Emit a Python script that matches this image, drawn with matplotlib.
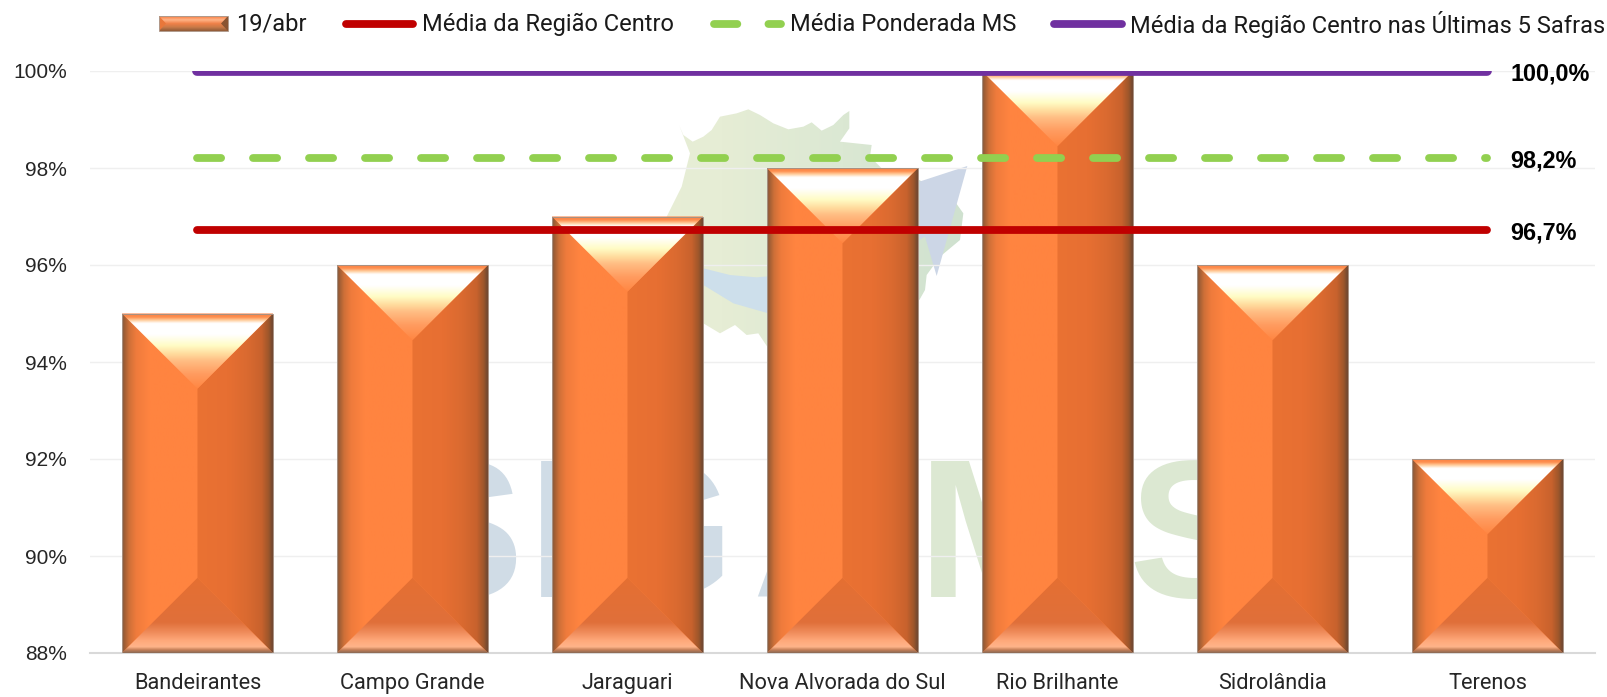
import numpy as np
import matplotlib
matplotlib.use('Agg')
import matplotlib.pyplot as plt
from matplotlib.colors import LinearSegmentedColormap
from matplotlib.patches import Polygon

# data
cidades = ['Bandeirantes', 'Campo Grande', 'Jaraguari', 'Nova Alvorada do Sul',
           'Rio Brilhante', 'Sidrolândia', 'Terenos']
valores = [95, 96, 97, 98, 100, 96, 92]
media_centro = 96.72
media_ms = 98.2
media_5_safras = 100.0
yticks = [88, 90, 92, 94, 96, 98, 100]

W, H = 1608, 697
LARANJA = '#ff8440'


def grad(stops, total):
    # stops in pixels, from the start of the panel
    return LinearSegmentedColormap.from_list(
        'g', [(min(p / total, 1.0), c) for p, c in stops], N=512)


ESQ = [(0, '#7d5f4c'), (2, '#9c5c34'), (7, '#cf7038'), (14, '#ef7b3c'), (27, '#ff8440'), (75, '#ff8440')]
DIR = [(0, '#ea7233'), (30, '#e76f32'), (50, '#da6a30'), (64, '#c8622d'), (71, '#9c562b'), (75, '#6b4632')]
TOPO = [(0, '#f97c3e'), (4, '#ff9050'), (7, '#ffd0a0'), (10, '#ffffff'), (21, '#ffffff'), (32, '#fffcc5'),
        (40, '#ffdd9f'), (47, '#ffbe84'), (60, '#ff9c60'), (75, '#ff8642')]
BASE = [(0, '#e56f32'), (45, '#e0703a'), (55, '#f08d5c'), (63, '#ffa97b'), (69, '#ffb48a'), (72, '#c47e57'), (75, '#8a6a55')]


def painel(ax, pts, stops, total, ext, vertical, z):
    g = np.linspace(0, 1, 256)
    arr = g[:, None] if vertical else g[None, :]
    im = ax.imshow(arr, cmap=grad(stops, total), extent=ext, origin='lower', vmin=0, vmax=1,
                   aspect='auto', zorder=z, interpolation='bilinear')
    im.set_clip_path(Polygon(pts, closed=True, transform=ax.transData))


def barra(ax, x0, x1, y0, y1, dy, z=3):
    xc = (x0 + x1) / 2
    painel(ax, [(x0, y0), (xc, y0 + dy), (xc, y1 - dy), (x0, y1)], ESQ, 75, (x0, xc, y0, y1), False, z)
    painel(ax, [(x1, y0), (xc, y0 + dy), (xc, y1 - dy), (x1, y1)], DIR, 75, (xc, x1, y0, y1), False, z)
    # top: starts at y1 and goes down
    painel(ax, [(x0, y1), (x1, y1), (xc, y1 - dy)], TOPO, 75, (x0, x1, y1, y1 - dy), True, z)
    # bottom: starts at the apex and goes down
    painel(ax, [(x0, y0), (x1, y0), (xc, y0 + dy)], BASE, 75, (x0, x1, y0 + dy, y0), True, z)


fig = plt.figure(figsize=(W / 100, H / 100), dpi=100, facecolor='white')

# background in pixel coordinates: watermark and legend
bg = fig.add_axes([0, 0, 1, 1], zorder=0)
bg.axis('off')

# map shape, from a 3x crop starting at (640, 90)
mapa = [(118, 107), (130, 135), (158, 155), (190, 140), (215, 120), (240, 80), (290, 70), (325, 58), (360, 75),
        (400, 100), (445, 118), (490, 110), (515, 97), (545, 122), (580, 105), (610, 75), (628, 63), (628, 115),
        (600, 155), (695, 165), (690, 200), (725, 235), (838, 270), (945, 335), (970, 370), (960, 450), (900, 500),
        (860, 555), (855, 600), (838, 630), (600, 700), (385, 775), (355, 730), (320, 735), (285, 705), (240, 730),
        (190, 700), (60, 690), (60, 420), (80, 380), (125, 290), (150, 190)]
mapa = [(640 + x / 3, 90 + y / 3) for x, y in mapa]
cmap_mapa = LinearSegmentedColormap.from_list('m', ['#e9efd6', '#e6edd5', '#dbe8d3', '#cfe1cf'])
im = bg.imshow(np.linspace(0, 1, 256)[None, :], cmap=cmap_mapa, extent=(600, 965, 400, 100),
               aspect='auto', zorder=1)
im.set_clip_path(Polygon(mapa, closed=True, transform=bg.transData))

azul1 = [(190, 535), (270, 555), (350, 562), (600, 540), (600, 720), (385, 670), (280, 640), (190, 585)]
azul2 = [(838, 275), (982, 228), (890, 558), (855, 440), (838, 450)]
bg.add_patch(Polygon([(640 + x / 3, 90 + y / 3) for x, y in azul1], fc='#cddfeb', ec='none', zorder=2))
bg.add_patch(Polygon([(640 + x / 3, 90 + y / 3) for x, y in azul2], fc='#ccd6e6', ec='none', zorder=2))

# watermark letters
for letra, x, cor in [('S', 392, '#d0dce6'), ('I', 528, '#d0dce6'), ('G', 582, '#d0dce6'), ('A', 752, '#d0dce6'),
                      ('M', 918, '#dce8d2'), ('S', 1128, '#dce8d2')]:
    bg.text(x, 597, letra, fontsize=141, fontweight='bold', family='Liberation Sans', color=cor,
            ha='left', va='baseline', zorder=3)

# legend, drawn by hand to sit where it does in the reference
fonte_leg = dict(fontsize=17, family='Roboto', color='#1a1a1a', va='center', ha='left', zorder=6)
bg.imshow(np.linspace(0, 1, 64)[:, None],
          cmap=LinearSegmentedColormap.from_list('l', ['#f97c3e', '#ffb488', '#f08048', '#c97a48', '#8f5a38']),
          extent=(159, 228, 16, 31), origin='lower', aspect='auto', zorder=4)
bg.add_patch(Polygon([(159, 16), (166, 23.5), (159, 31)], fc='#e9773a', ec='none', zorder=5))
bg.add_patch(Polygon([(228, 16), (221, 23.5), (228, 31)], fc='#8a5432', ec='none', zorder=5))
bg.add_patch(Polygon([(159, 16), (228, 16), (228, 31), (159, 31)], fc='none', ec='#b09a8c', lw=0.7, zorder=5))
bg.text(236, 24.5, '19/abr', **fonte_leg)
bg.plot([346, 413], [23.5, 23.5], color='#c00000', lw=5.6, solid_capstyle='round', zorder=5)
bg.text(422, 24.5, 'Média da Região Centro', **fonte_leg)
bg.plot([714, 781], [23.5, 23.5], color='#92d050', lw=5.6, dash_capstyle='round', linestyle=(0, (3, 4)), zorder=5)
bg.text(790, 24.5, 'Média Ponderada MS', **fonte_leg)
bg.plot([1054, 1122], [23.5, 23.5], color='#7030a0', lw=5.6, solid_capstyle='round', zorder=5)
bg.text(1130, 24.5, 'Média da Região Centro nas Últimas 5 Safras', **fonte_leg)

bg.set_xlim(0, W)
bg.set_ylim(H, 0)

# chart
ax = fig.add_axes([90 / W, (H - 653) / H, (1595 - 90) / W, (653 - 71) / H], zorder=1)
ax.patch.set_alpha(0)
x = np.arange(len(cidades))

bars = ax.bar(x, np.array(valores) - 88, bottom=88, width=0.702, color=LARANJA, edgecolor='none', zorder=2)
for b in bars:
    barra(ax, b.get_x(), b.get_x() + b.get_width(), b.get_y(), b.get_y() + b.get_height(), 1.55)
ax.bar(x, np.array(valores) - 88, bottom=88, width=0.702, facecolor='none', edgecolor='#a89182', lw=0.7, zorder=4)

ax.plot(x, [media_centro] * len(x), color='#c00000', lw=5.6, solid_capstyle='round', zorder=5)
ax.plot(x, [media_ms] * len(x), color='#92d050', lw=5.6, dash_capstyle='round', linestyle=(0, (3.1, 4.1)), zorder=6)
ax.plot(x, [media_5_safras] * len(x), color='#7030a0', lw=7, solid_capstyle='round', zorder=6)

for v in [media_5_safras, media_ms, media_centro]:
    ax.annotate(f'{v:.1f}%'.replace('.', ','), (x[-1], v), xytext=(16.5, -2), textcoords='offset points',
                fontsize=16.8, fontweight='bold', family='Liberation Sans', color='black', va='center', ha='left')

ax.set_xlim(-0.5, 6.5)
ax.set_ylim(88, 100)
ax.set_xticks(x)
ax.set_xticklabels(cidades, fontsize=15.7, family='Roboto', color='#262626')
ax.set_yticks(yticks)
ax.set_yticklabels([f'{t}%' for t in yticks], fontsize=15, family='Liberation Sans', color='#262626')
ax.tick_params(axis='both', length=0)
ax.tick_params(axis='y', pad=16.5)
ax.tick_params(axis='x', pad=14.5)
ax.grid(axis='y', color='#efefef', lw=1, zorder=1)
ax.set_axisbelow(True)
for s in ['top', 'left', 'right']:
    ax.spines[s].set_visible(False)
ax.spines['bottom'].set_color('#d9d9d9')
ax.spines['bottom'].set_linewidth(1.5)

fig.savefig('out.png', dpi=100)
